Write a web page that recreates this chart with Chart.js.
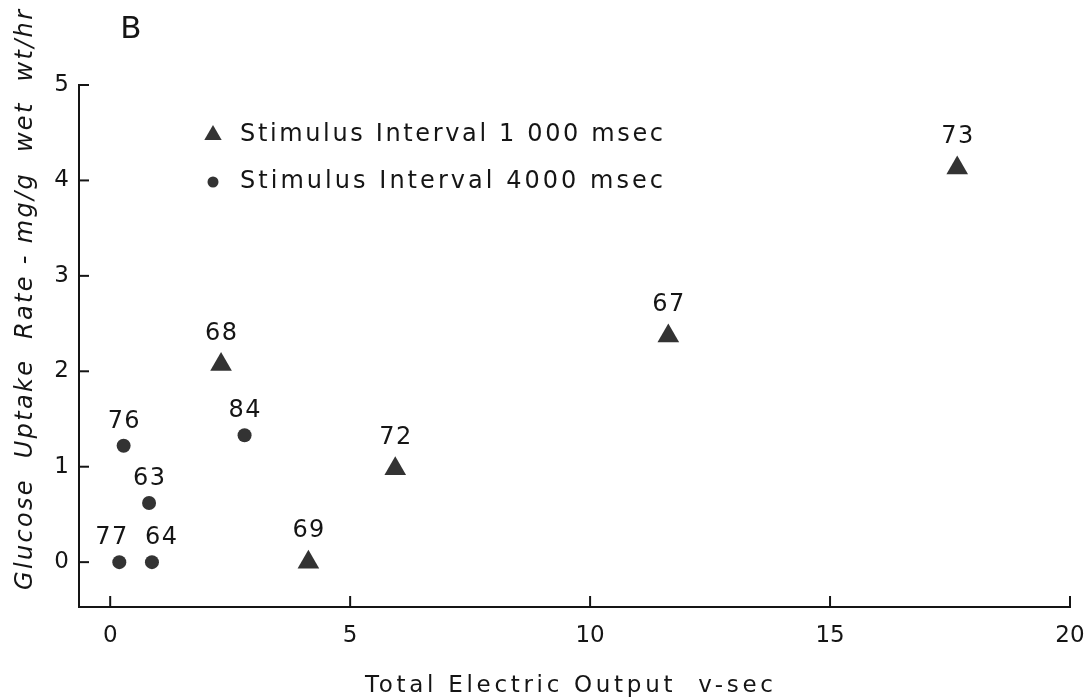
<!DOCTYPE html>
<html lang="en">
<head>
    <meta charset="UTF-8">
    <title>Glucose Uptake vs Electric Output</title>
    <script src="https://cdn.jsdelivr.net/npm/chart.js"></script>
    <style>
        html, body { margin: 0; padding: 0; background: #fff; }
        #wrap { width: 1092px; height: 698px; }
    </style>
</head>
<body>
    <div id="wrap">
        <canvas id="uptakeChart" width="1092" height="698"></canvas>
    </div>

    <script>
        // Data
        const triX = [17.65, 11.63, 2.31, 5.94, 4.13];
        const triY = [4.13, 2.37, 2.07, 0.98, 0.0];
        const triNames = ['73', '67', '68', '72', '69'];

        const dotX = [0.28, 2.80, 0.81, 0.19, 0.87];
        const dotY = [1.22, 1.33, 0.62, 0.0, 0.0];
        const dotNames = ['76', '84', '63', '77', '64'];

        const xTicks = [0, 5, 10, 15, 20];
        const yTicks = [0, 1, 2, 3, 4, 5];

        const seriesNames = ['Stimulus Interval 1 000 msec', 'Stimulus Interval 4000 msec'];
        const xTitle = 'Total Electric Output  v-sec';
        const yTitle = 'Glucose  Uptake  Rate - mg/g  wet  wt/hr';
        const panelLetter = 'B';

        const ink = '#151515';
        const markFill = '#333333';
        const face = '"DejaVu Sans", "Liberation Sans", sans-serif';

        // the two crowded labels at zero sit a little apart in the original
        const labelNudge = { '77': -8, '64': 9 };

        // write text stretched to a given width with letter spacing
        function spacedText(ctx, text, x, y, width) {
            ctx.letterSpacing = '0px';
            const natural = ctx.measureText(text).width;
            const gap = Math.max(0, (width - natural) / (text.length - 1));
            ctx.letterSpacing = gap + 'px';
            ctx.textAlign = 'left';
            ctx.fillText(text, x - width / 2, y);
            ctx.letterSpacing = '0px';
        }

        const decorPlugin = {
            id: 'decor',
            afterDatasetsDraw(chart) {
                const ctx = chart.ctx;
                const xs = chart.scales.x, ys = chart.scales.y;
                const area = chart.chartArea;
                ctx.save();

                // inward tick marks
                ctx.strokeStyle = ink;
                ctx.lineWidth = 2;
                yTicks.forEach(v => {
                    const py = ys.getPixelForValue(v);
                    ctx.beginPath();
                    ctx.moveTo(area.left, py);
                    ctx.lineTo(area.left + 10, py);
                    ctx.stroke();
                });
                xTicks.forEach(v => {
                    const px = xs.getPixelForValue(v);
                    ctx.beginPath();
                    ctx.moveTo(px, area.bottom);
                    ctx.lineTo(px, area.bottom - 11);
                    ctx.stroke();
                });

                // point numbers
                ctx.fillStyle = ink;
                ctx.font = '24px ' + face;
                ctx.textBaseline = 'middle';
                chart.data.datasets.forEach((ds, i) => {
                    const meta = chart.getDatasetMeta(i);
                    const lift = ds.pointStyle === 'triangle' ? 31 : 24;
                    meta.data.forEach((el, j) => {
                        const t = ds.names[j];
                        const dx = labelNudge[t] || 0;
                        spacedText(ctx, t, el.x + dx, el.y - lift, 32);
                    });
                });

                // legend inside the plot
                const rows = [135, 182];
                ctx.fillStyle = markFill;
                ctx.beginPath();
                const r = 10;
                ctx.moveTo(213, rows[0] - r);
                ctx.lineTo(213 + r * 0.87, rows[0] + r / 2);
                ctx.lineTo(213 - r * 0.87, rows[0] + r / 2);
                ctx.closePath();
                ctx.fill();
                ctx.beginPath();
                ctx.arc(213, rows[1], 5.5, 0, Math.PI * 2);
                ctx.fill();

                ctx.fillStyle = ink;
                ctx.font = '24px ' + face;
                spacedText(ctx, seriesNames[0], 240 + 423 / 2, rows[0], 423);
                spacedText(ctx, seriesNames[1], 240 + 423 / 2, rows[1], 423);

                // axis titles
                ctx.font = '23px ' + face;
                spacedText(ctx, xTitle, 569, 686, 408);

                ctx.save();
                ctx.translate(26, 300);
                ctx.rotate(-Math.PI / 2);
                ctx.font = 'italic 24px ' + face;
                spacedText(ctx, yTitle, 0, 0, 580);
                ctx.restore();

                // panel letter
                ctx.font = '31px ' + face;
                ctx.textAlign = 'center';
                ctx.fillText(panelLetter, 131, 30);

                ctx.restore();
            }
        };

        const ctx = document.getElementById('uptakeChart').getContext('2d');
        new Chart(ctx, {
            type: 'scatter',
            data: {
                datasets: [
                    {
                        label: seriesNames[0],
                        names: triNames,
                        data: triX.map((x, i) => ({ x: x, y: triY[i] })),
                        pointStyle: 'triangle',
                        pointRadius: 12.5,
                        backgroundColor: markFill,
                        borderWidth: 0
                    },
                    {
                        label: seriesNames[1],
                        names: dotNames,
                        data: dotX.map((x, i) => ({ x: x, y: dotY[i] })),
                        pointStyle: 'circle',
                        pointRadius: 7,
                        backgroundColor: markFill,
                        borderWidth: 0
                    }
                ]
            },
            options: {
                responsive: false,
                animation: false,
                clip: false,
                layout: { padding: { left: 0, right: 22, top: 85, bottom: 0 } },
                plugins: {
                    legend: { display: false },
                    tooltip: { enabled: false }
                },
                scales: {
                    x: {
                        type: 'linear',
                        min: -0.65,
                        max: 20,
                        afterBuildTicks: s => { s.ticks = xTicks.map(v => ({ value: v })); },
                        afterFit: s => { s.height = 91; s.paddingLeft = 0; s.paddingRight = 0; },
                        grid: { display: false, drawTicks: false },
                        border: { display: true, color: ink, width: 2 },
                        ticks: {
                            padding: 15,
                            color: ink,
                            font: { family: face, size: 23 },
                            maxRotation: 0,
                            autoSkip: false
                        }
                    },
                    y: {
                        type: 'linear',
                        min: -0.47,
                        max: 5,
                        afterBuildTicks: s => { s.ticks = yTicks.map(v => ({ value: v })); },
                        afterFit: s => { s.width = 79; s.paddingTop = 0; s.paddingBottom = 0; },
                        grid: { display: false, drawTicks: false },
                        border: { display: true, color: ink, width: 2 },
                        ticks: {
                            padding: 10,
                            color: ink,
                            font: { family: face, size: 23 },
                            autoSkip: false
                        }
                    }
                }
            },
            plugins: [decorPlugin]
        });
    </script>
</body>
</html>
